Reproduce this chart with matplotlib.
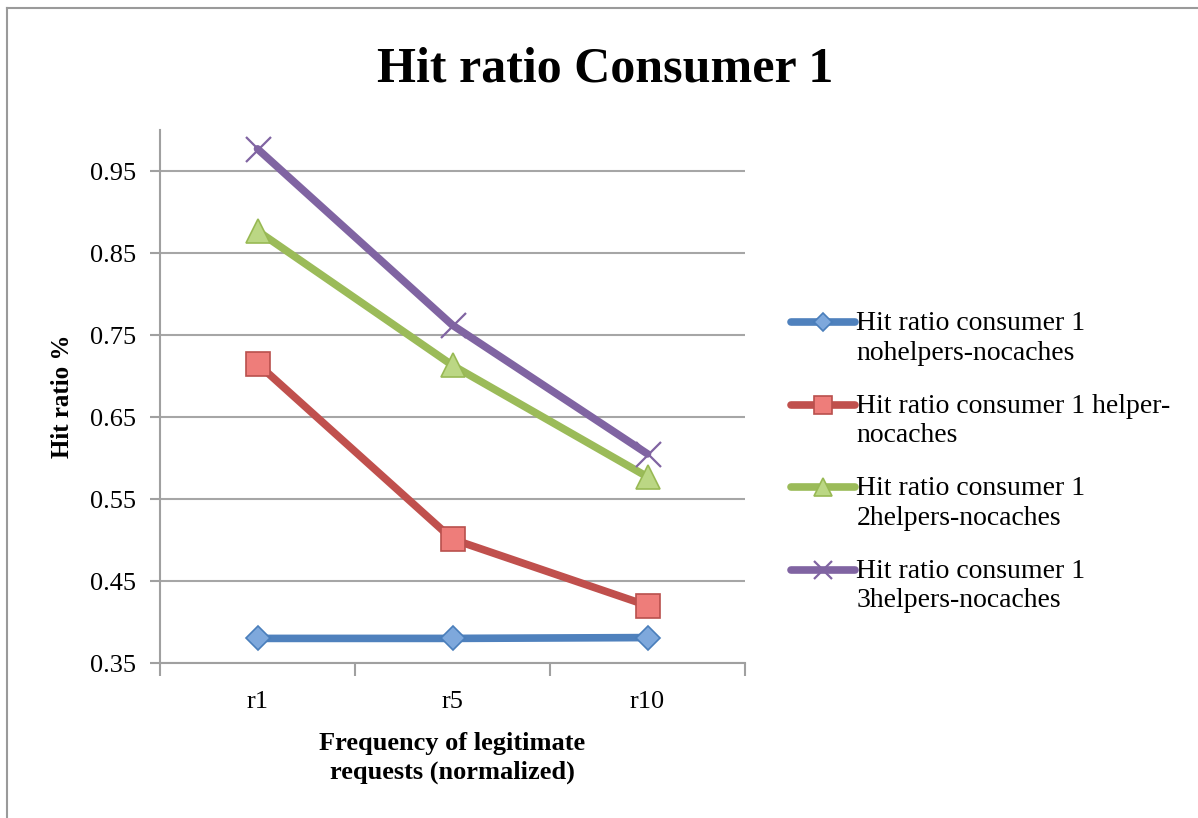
import matplotlib.pyplot as plt
import numpy as np
from matplotlib.lines import Line2D
from matplotlib.legend_handler import HandlerLine2D

plt.rcParams['font.family'] = ['Liberation Serif', 'DejaVu Serif']

categories = ['r1', 'r5', 'r10']
nohelpers = [0.380, 0.380, 0.381]
one_helper = [0.715, 0.501, 0.420]
two_helpers = [0.877, 0.713, 0.577]
three_helpers = [0.977, 0.762, 0.605]

labels = ['Hit ratio consumer 1\nnohelpers-nocaches',
          'Hit ratio consumer 1 helper-\nnocaches',
          'Hit ratio consumer 1\n2helpers-nocaches',
          'Hit ratio consumer 1\n3helpers-nocaches']

# line colour, marker, marker size, marker face, marker edge
styles = [
    ('#4F81BD', 'D', 12, '#7EA8DC', '#4A7EBB'),
    ('#C0504D', 's', 17, '#EE7D7A', '#B9504D'),
    ('#9BBB59', '^', 17, '#BBD784', '#98B954'),
    ('#8064A2', 'x', 18, '#8064A2', '#8064A2'),
]


class FirstLineHandler(HandlerLine2D):
    # put the legend key level with the first line of a two-line label
    def __init__(self, shift, **kw):
        super().__init__(**kw)
        self.shift = shift

    def create_artists(self, legend, orig_handle, xdescent, ydescent,
                       width, height, fontsize, trans):
        arts = super().create_artists(legend, orig_handle, xdescent, ydescent,
                                      width, height, fontsize, trans)
        for a in arts:
            a.set_ydata(np.asarray(a.get_ydata(), dtype=float) + self.shift)
        return arts


fig = plt.figure(figsize=(11.98, 8.18), dpi=100)
ax = fig.add_axes([160/1198, 1 - 663/818, 585/1198, 533/818])

x = np.arange(len(categories))
series = [nohelpers, one_helper, two_helpers, three_helpers]
handles = []
for vals, lab, (col, mk, ms, fc, ec) in zip(series, labels, styles):
    mew = 1.6 if mk == 'x' else 1.2
    ax.plot(x, vals, color=col, lw=5.5, solid_capstyle='round', zorder=3)
    ax.plot(x, vals, ls='none', marker=mk, ms=ms, mfc=fc, mec=ec, mew=mew, zorder=4)
    handles.append(Line2D([], [], color=col, lw=5.5, solid_capstyle='round',
                          marker=mk, ms=ms * 0.75, mfc=fc, mec=ec, mew=mew))

ax.set_xlim(-0.5, 2.5)
ax.set_ylim(0.35, 1.0)
ax.set_yticks(np.arange(0.35, 0.96, 0.1))
ax.set_yticklabels(['0.35', '0.45', '0.55', '0.65', '0.75', '0.85', '0.95'])
ax.set_xticks(x)
ax.set_xticklabels(categories)
ax.set_xticks([-0.5, 0.5, 1.5, 2.5], minor=True)
ax.tick_params(axis='x', which='major', length=0, labelsize=19, pad=20)
ax.tick_params(axis='x', which='minor', length=9, width=1.5, color='#A0A0A0', direction='out')
ax.tick_params(axis='y', length=7, width=1.5, color='#A0A0A0', labelsize=19, pad=10)

ax.grid(axis='y', color='#A6A6A6', lw=1.5, zorder=0)
ax.set_axisbelow(True)
for s in ['top', 'right']:
    ax.spines[s].set_visible(False)
for s in ['left', 'bottom']:
    ax.spines[s].set_color('#A0A0A0')
    ax.spines[s].set_linewidth(1.5)

ax.set_ylabel('Hit ratio %', fontsize=18, fontweight='bold', labelpad=12)
ax.set_xlabel('Frequency of legitimate\nrequests (normalized)', fontsize=19,
              fontweight='bold', labelpad=14, linespacing=1.3)

fig.text(605/1198, 1 - 70/818, 'Hit ratio Consumer 1', fontsize=36,
         fontweight='bold', ha='center', va='center')

leg_fs = 20
leg = fig.legend(handles=handles, labels=labels, loc='upper left',
                 bbox_to_anchor=(780/1198, 1 - 300/818), frameon=False,
                 handlelength=2.3, handletextpad=0.05,
                 labelspacing=1.0, borderaxespad=0,
                 prop={'size': leg_fs},
                 handler_map={Line2D: FirstLineHandler(shift=leg_fs * 0.57)})
for t in leg.get_texts():
    t.set_linespacing(1.25)

# outer chart frame
fig.add_artist(Line2D([7/1198, 7/1198], [0, 1 - 8/818], color='#9A9A9A', lw=1.5))
fig.add_artist(Line2D([7/1198, 1], [1 - 8/818, 1 - 8/818], color='#9A9A9A', lw=1.5))

fig.savefig('out.png', dpi=100, facecolor='white')
